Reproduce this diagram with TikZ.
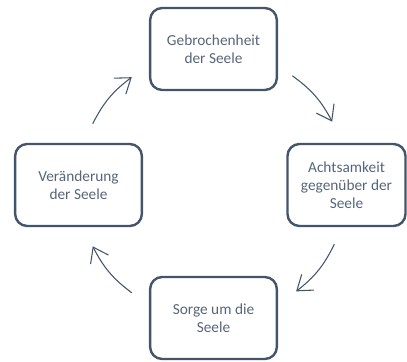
\documentclass[tikz,border=0pt]{standalone}
\usepackage{fontspec}
\setmainfont{Carlito}
\usepackage{tikz}
\usetikzlibrary{calc,arrows.meta,positioning}

\definecolor{slate}{HTML}{44546A}

\tikzset{
  stage/.style={draw=slate, line width=1.8pt, rounded corners=9pt,
    minimum width=95pt, minimum height=61.5pt, align=center,
    text=slate!90, font=\fontsize{11.5}{13.4}\selectfont},
  cyc/.style={draw=slate, line width=0.8pt,
    -{Straight Barb[length=10.5pt,width=15pt,line width=0.8pt]}}
}

\begin{document}
\begin{tikzpicture}[x=0.75pt,y=0.75pt]
  \useasboundingbox (0,0) rectangle (407,361);
  \def\r{135}
  \coordinate (mid) at (213,176);
  \node[stage] (broken) at (213.5,312) {Gebrochenheit\\der Seele};
  \node[stage, minimum width=88.5pt] (mindful) at (346.5,176) {Achtsamkeit\\gegenüber der\\Seele};
  \node[stage] (care) at (213.5,43) {Sorge um die\\Seele};
  \node[stage] (change) at (78.5,176) {Veränderung\\der Seele};
  % arcs round the cycle, clockwise
  \foreach \n/\a in {1/153,2/54,3/-26,4/-127}{
    \coordinate (s\n) at ($(mid)+(\a:\r)$);
    \coordinate (e\n) at ($(mid)+(\a-26:\r)$);
    \draw[cyc] (s\n) to[bend left=13] (e\n);
  }
\end{tikzpicture}
\end{document}
